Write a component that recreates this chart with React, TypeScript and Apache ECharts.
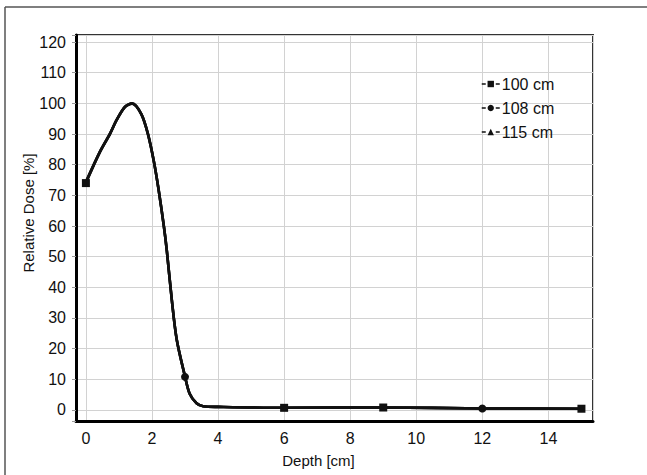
import React, { useEffect, useRef } from "react";
import * as echarts from "echarts";

const depth = [0, 0.42, 0.73, 0.93, 1.18, 1.4, 1.68, 1.88, 2.06, 2.2, 2.36, 2.45, 2.6, 2.75, 3.0, 3.14, 3.35, 3.55, 4.0, 6.0, 9.0, 12.0, 15.0];
const dose100 = [74, 84, 90, 94.6, 98.8, 100, 96.5, 90, 81, 72, 60, 52, 36, 23, 11, 5.4, 2.2, 1.2, 1.0, 0.7, 0.8, 0.5, 0.4];
const dose108 = [74.5, 84.2, 90.2, 94.6, 98.9, 100, 96.4, 89.8, 80.8, 71.8, 59.8, 51.8, 35.8, 22.8, 10.8, 5.3, 2.2, 1.2, 1.0, 0.7, 0.8, 0.5, 0.4];
const dose115 = [74.2, 84.1, 90.1, 94.5, 98.8, 99.9, 96.4, 89.9, 80.9, 71.9, 59.9, 51.9, 35.9, 22.9, 10.9, 5.3, 2.2, 1.2, 1.0, 0.7, 0.8, 0.5, 0.4];
// depths where each series shows its measurement marker
const marks100 = [0, 6, 9, 15];
const marks108 = [3, 12];
const marks115: number[] = [];
const seriesNames = ["100 cm", "108 cm", "115 cm"];
const xTicks = [0, 2, 4, 6, 8, 10, 12, 14];
const yTicks = [0, 10, 20, 30, 40, 50, 60, 70, 80, 90, 100, 110, 120];

const FONT = "Liberation Sans, Arial, sans-serif";

function buildData(values: number[], marks: number[]) {
  return depth.map((d, i) => {
    const shown = marks.indexOf(d) >= 0;
    return shown ? { value: [d, values[i]] } : { value: [d, values[i]], symbol: "none" };
  });
}

export default function App() {
  const ref = useRef<HTMLDivElement>(null);
  useEffect(() => {
    if (!ref.current) return;
    const chart = echarts.init(ref.current, null, { renderer: "svg" });
    const lineStyle = { color: "#111", width: 2.6 };
    const common = {
      type: "line",
      smooth: 0.3,
      showAllSymbol: true,
      lineStyle,
      itemStyle: { color: "#111" },
      emphasis: { disabled: true },
    };
    chart.setOption({
      animation: false,
      backgroundColor: "#fff",
      textStyle: { fontFamily: FONT },
      grid: {
        left: 76,
        top: 35,
        width: 517,
        height: 386,
        show: true,
        borderColor: "#333",
        borderWidth: 2,
        backgroundColor: "transparent",
      },
      legend: {
        orient: "vertical",
        left: 476,
        top: 71,
        itemWidth: 18,
        itemHeight: 8,
        itemGap: 8,
        data: seriesNames,
        lineStyle: { type: [4, 10], width: 1.5 },
        textStyle: { fontFamily: FONT, fontSize: 16, color: "#111", padding: [0, 0, 0, -3] },
      },
      xAxis: {
        type: "value",
        min: -0.3,
        max: 15.35,
        splitNumber: 8,
        minInterval: 2,
        maxInterval: 2,
        name: "Depth [cm]",
        nameLocation: "middle",
        nameGap: 32,
        nameMoveOverlap: false,
        nameTextStyle: { fontFamily: FONT, fontSize: 15, color: "#111", padding: [0, 32, 0, 0] },
        axisLine: { show: true, onZero: false, lineStyle: { color: "#000", width: 3 } },
        axisTick: { show: false },
        axisLabel: {
          fontFamily: FONT,
          fontSize: 16,
          color: "#111",
          margin: 9,
          formatter: (v: number) => (xTicks.indexOf(v) >= 0 ? String(v) : ""),
        },
        splitLine: { show: true, lineStyle: { color: "#d2d2d2", width: 1 } },
      },
      yAxis: {
        type: "value",
        min: -3.6,
        max: 122.3,
        splitNumber: 12,
        minInterval: 10,
        maxInterval: 10,
        name: "Relative Dose [%]",
        nameLocation: "middle",
        nameGap: 40,
        nameMoveOverlap: false,
        nameTextStyle: { fontFamily: FONT, fontSize: 15, color: "#111", padding: [0, 0, 0, 30] },
        axisLine: { show: true, onZero: false, lineStyle: { color: "#000", width: 3 } },
        axisTick: { show: true, length: 4, lineStyle: { color: "#999" } },
        axisLabel: {
          fontFamily: FONT,
          fontSize: 16,
          color: "#111",
          margin: 10,
          formatter: (v: number) => (yTicks.indexOf(v) >= 0 ? String(v) : ""),
        },
        splitLine: { show: true, lineStyle: { color: "#d2d2d2", width: 1 } },
      },
      graphic: [
        { type: "line", shape: { x1: 5, y1: 7, x2: 647, y2: 7 }, style: { stroke: "#555", lineWidth: 1.5 } },
        { type: "line", shape: { x1: 5, y1: 7, x2: 5, y2: 475 }, style: { stroke: "#555", lineWidth: 1.5 } },
      ],
      series: [
        { ...common, name: seriesNames[2], symbol: "triangle", symbolSize: 9, data: buildData(dose115, marks115), z: 2 },
        { ...common, name: seriesNames[1], symbol: "circle", symbolSize: 8, data: buildData(dose108, marks108), z: 3 },
        { ...common, name: seriesNames[0], symbol: "rect", symbolSize: 8, data: buildData(dose100, marks100), z: 4 },
      ],
    });
    return () => chart.dispose();
  }, []);
  return <div ref={ref} style={{ position: "fixed", left: 0, top: 0, width: 647, height: 475 }} />;
}
